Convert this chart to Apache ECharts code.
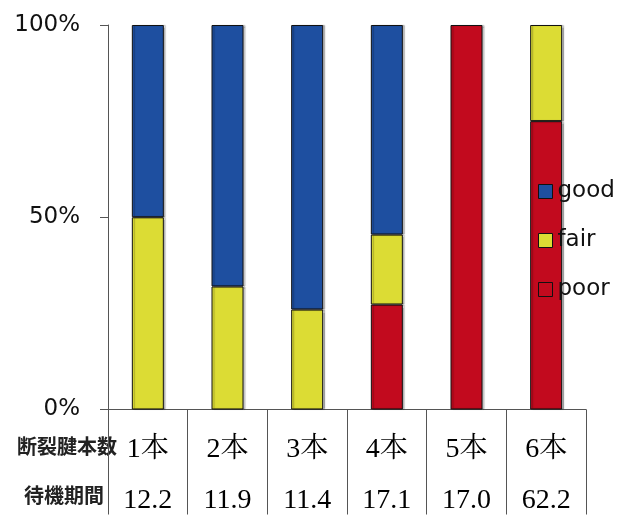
<!DOCTYPE html>
<html>
<head>
<meta charset="utf-8">
<script src="https://cdn.jsdelivr.net/npm/echarts@6/dist/echarts.min.js"></script>
<style>
  html, body { margin: 0; padding: 0; background: #fff; }
  #chart { width: 629px; height: 515px; }
</style>
</head>
<body>
<div id="chart"></div>
<script>
// Number of ruptured tendons per group
const categories = ['1本', '2本', '3本', '4本', '5本', '6本'];
// Waiting period for each group
const waitPeriod = ['12.2', '11.9', '11.4', '17.1', '17.0', '62.2'];
// Outcome shares (%), stacked bottom to top: poor, fair, good
const poor = [0, 0, 0, 27.3, 100, 75];
const fair = [50, 32, 26, 18.2, 0, 25];
const good = [50, 68, 74, 54.5, 0, 0];
// Y-axis ticks
const yTicks = [0, 50, 100];

const colors = { good: '#1e4fa0', fair: '#dcdc34', poor: '#c20a1e' };

const chart = echarts.init(document.getElementById('chart'), null, { renderer: 'canvas' });

function barSeries(name, data) {
  return {
    name: name,
    type: 'bar',
    stack: 'total',
    // empty segments are skipped so they leave no outline
    data: data.map(v => (v === 0 ? '-' : v)),
    barWidth: 32,
    itemStyle: {
      color: colors[name],
      borderColor: '#111',
      borderWidth: 1,
      shadowColor: 'rgba(0,0,0,0.25)',
      shadowOffsetX: 2,
      shadowOffsetY: 0,
      shadowBlur: 1
    },
    emphasis: { disabled: true }
  };
}

chart.setOption({
  animation: false,
  backgroundColor: '#fff',
  grid: { left: 108, right: 43, top: 25, bottom: 105, containLabel: false },
  legend: {
    orient: 'vertical',
    left: 538,
    top: 180,
    padding: 0,
    icon: 'rect',
    itemWidth: 14,
    itemHeight: 14,
    itemGap: 26,
    data: ['good', 'fair', 'poor'],
    selectedMode: false,
    itemStyle: { borderColor: '#111', borderWidth: 1, shadowBlur: 0, shadowOffsetX: 0 },
    textStyle: { fontFamily: 'DejaVu Sans', fontSize: 23, color: '#111', padding: [0, 0, 0, 0] }
  },
  xAxis: {
    type: 'category',
    data: categories,
    boundaryGap: true,
    axisLine: { show: true, lineStyle: { color: '#555', width: 1 } },
    axisTick: { show: true, interval: 0, length: 105, lineStyle: { color: '#555', width: 1 } },
    axisLabel: {
      interval: 0,
      margin: 15,
      formatter: function (value, idx) {
        return '{a|' + value + '}\n{b|' + waitPeriod[idx] + '}';
      },
      rich: {
        a: { fontFamily: 'Liberation Serif, "Noto Serif CJK JP", serif', fontSize: 28, color: '#000', lineHeight: 51 },
        b: { fontFamily: 'Liberation Serif, serif', fontSize: 28, color: '#000', lineHeight: 51 }
      }
    }
  },
  yAxis: {
    type: 'value',
    min: yTicks[0],
    max: yTicks[yTicks.length - 1],
    interval: yTicks[1] - yTicks[0],
    axisLine: { show: true, lineStyle: { color: '#555', width: 1 } },
    axisTick: { show: true, length: 8, lineStyle: { color: '#555', width: 1 } },
    splitLine: { show: false },
    axisLabel: {
      margin: 28,
      formatter: '{value}%',
      fontFamily: 'DejaVu Sans',
      fontSize: 23,
      color: '#111'
    }
  },
  graphic: [
    {
      type: 'text',
      left: 17,
      top: 436,
      style: { text: '断裂腱本数', font: 'bold 20px "Noto Sans CJK JP"', fill: '#222' }
    },
    {
      type: 'text',
      left: 24,
      top: 485,
      style: { text: '待機期間', font: 'bold 20px "Noto Sans CJK JP"', fill: '#222' }
    }
  ],
  series: [
    barSeries('poor', poor),
    barSeries('fair', fair),
    barSeries('good', good)
  ]
});
</script>
</body>
</html>
